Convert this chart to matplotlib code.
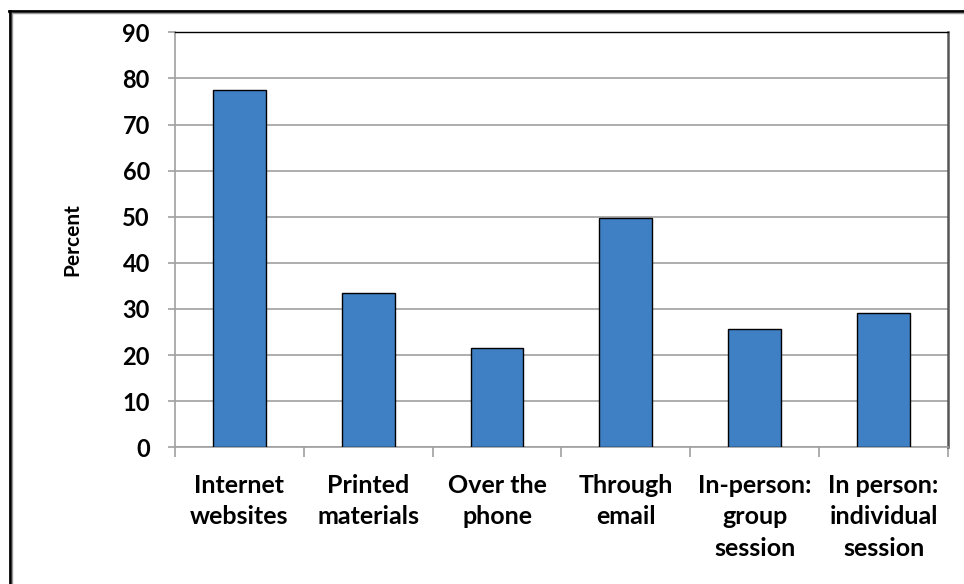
import matplotlib.pyplot as plt
import numpy as np
from matplotlib.lines import Line2D

categories = ["Internet\nwebsites", "Printed\nmaterials", "Over the\nphone",
              "Through\nemail", "In-person:\ngroup\nsession", "In person:\nindividual\nsession"]
percent = [77.4, 33.5, 21.6, 49.7, 25.6, 29.1]
y_ticks = [0, 10, 20, 30, 40, 50, 60, 70, 80, 90]

plt.rcParams['font.family'] = ['Lato', 'DejaVu Sans']

fig = plt.figure(figsize=(9.64, 5.84), dpi=100)
ax = fig.add_axes([0.1815, 0.2342, 0.8019, 0.7105])

x = np.arange(len(categories))
ax.bar(x, percent, width=0.41, color="#3f7fc4", edgecolor="black", linewidth=1.0, zorder=3)

ax.set_xlim(-0.5, len(categories) - 0.5)
ax.set_ylim(0, 90)
ax.set_yticks(y_ticks)
ax.yaxis.grid(True, color="#a0a0a0", linewidth=1.2, zorder=0)

ax.set_xticks(x)
ax.set_xticklabels(categories, fontsize=18, fontweight="bold", linespacing=1.45, va="top")
ax.set_xticks(np.arange(-0.5, len(categories)), minor=True)
ax.tick_params(axis="x", which="major", length=0, pad=19)
ax.tick_params(axis="x", which="minor", length=7, width=1.2, color="#a0a0a0")
ax.tick_params(axis="y", length=5, width=1.2, color="#a0a0a0", labelsize=17, pad=13)
for lab in ax.get_yticklabels():
    lab.set_fontweight("bold")

ax.set_ylabel("Percent", fontsize=15, fontweight="bold", labelpad=29)

ax.spines["left"].set_color("#a0a0a0")
ax.spines["left"].set_linewidth(1.2)
ax.spines["bottom"].set_color("#a0a0a0")
ax.spines["bottom"].set_linewidth(1.2)
ax.spines["top"].set_color("black")
ax.spines["top"].set_linewidth(1.0)
ax.spines["right"].set_color("#555555")
ax.spines["right"].set_linewidth(1.8)

# outer frame (cropped at the right and bottom)
fig.add_artist(Line2D([0.0098, 1.0], [1 - 10.5 / 584, 1 - 10.5 / 584], color="black", linewidth=2.0))
fig.add_artist(Line2D([0.0098, 1.0], [1 - 12.8 / 584, 1 - 12.8 / 584], color="#999999", linewidth=1.0))
fig.add_artist(Line2D([10 / 964, 10 / 964], [0, 1 - 10.5 / 584], color="black", linewidth=2.0))
fig.add_artist(Line2D([12.3 / 964, 12.3 / 964], [0, 1 - 12.8 / 584], color="#999999", linewidth=1.0))

fig.savefig("out.png", dpi=100)
plt.close(fig)
